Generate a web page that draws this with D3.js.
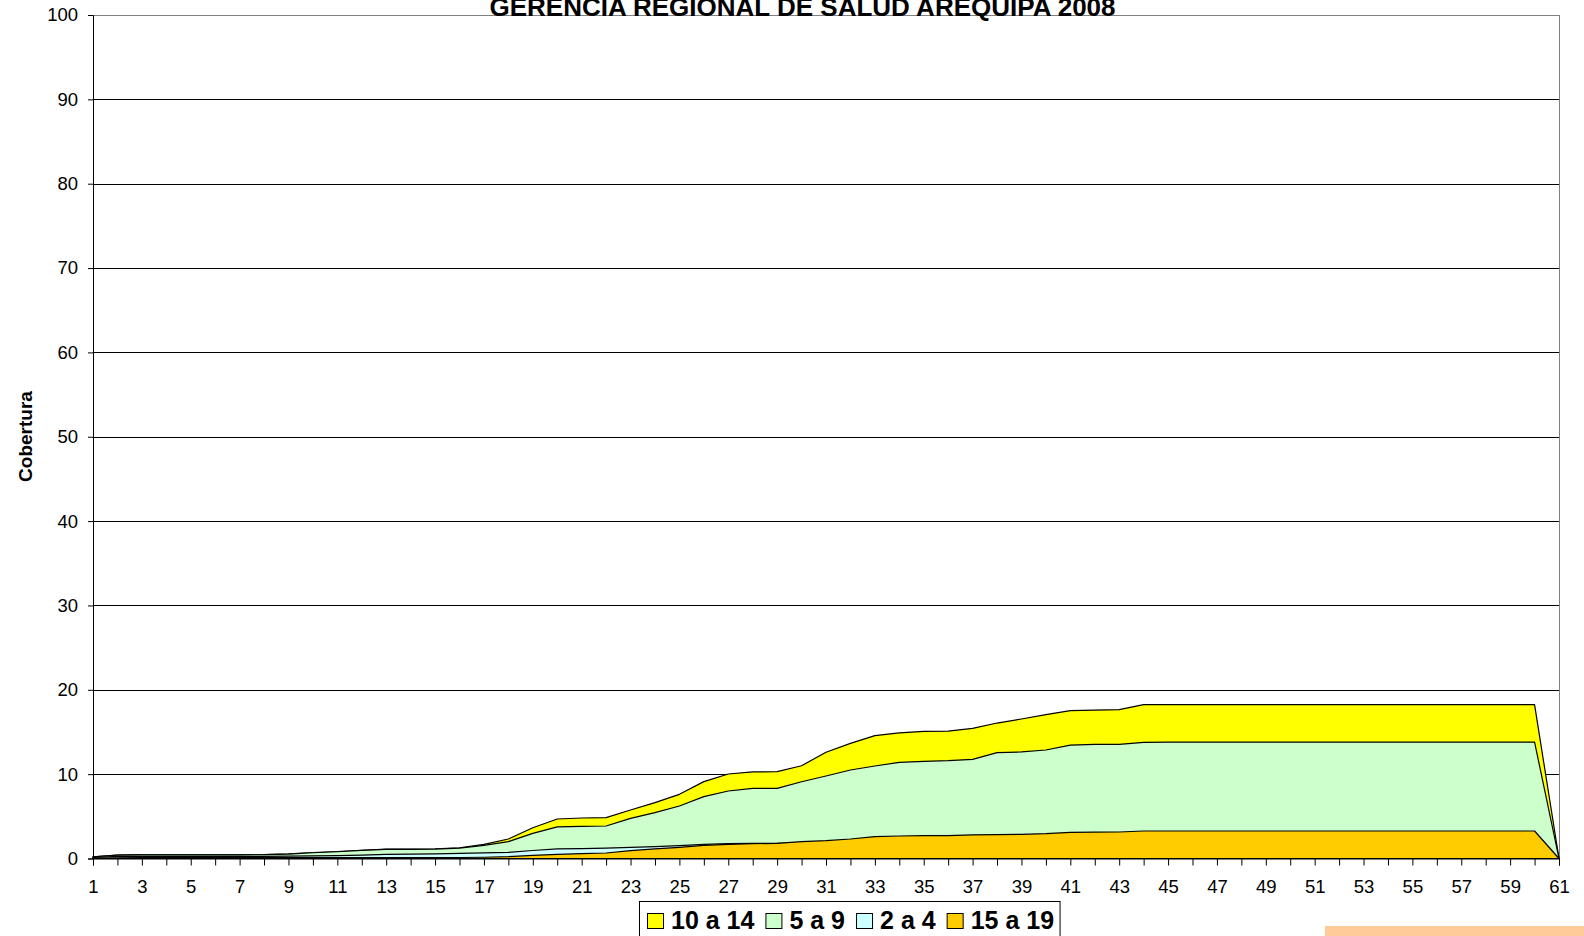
<!DOCTYPE html>
<html>
<head>
<meta charset="utf-8">
<script src="https://cdn.jsdelivr.net/npm/d3@7"></script>
<style>
  html, body { margin: 0; padding: 0; background: #fff; }
  svg { display: block; font-family: "Liberation Sans", Arial, sans-serif; }
</style>
</head>
<body>
<svg id="chart" width="1584" height="936"></svg>
<script>
const title = "GERENCIA REGIONAL DE SALUD AREQUIPA 2008";
const yTitle = "Cobertura";
const days = [1,2,3,4,5,6,7,8,9,10,11,12,13,14,15,16,17,18,19,20,21,22,23,24,25,26,27,28,29,30,
  31,32,33,34,35,36,37,38,39,40,41,42,43,44,45,46,47,48,49,50,51,52,53,54,55,56,57,58,59,60,61];
const yTicks = [0,10,20,30,40,50,60,70,80,90,100];
const seriesNames = ["10 a 14", "5 a 9", "2 a 4", "15 a 19"];
const seriesColors = ["#FFFF00", "#CCFFCC", "#CCFFFF", "#FFCC00"];

const s10a14 = [0.21,0.41,0.45,0.45,0.45,0.45,0.45,0.46,0.54,0.7,0.82,0.98,1.1,1.1,1.14,1.25,1.68,2.31,3.65,4.68,
  4.8,4.84,5.75,6.62,7.61,9.11,10.02,10.26,10.3,11.0,12.6,13.65,14.56,14.9,15.08,15.1,15.43,16.06,16.54,17.05,
  17.53,17.6,17.64,18.24,18.24,18.24,18.24,18.24,18.24,18.24,18.24,18.24,18.24,18.25,18.25,18.25,18.25,18.25,18.25,18.25,0];
const s5a9 = [0.2,0.4,0.44,0.44,0.44,0.44,0.44,0.45,0.53,0.68,0.8,0.96,1.08,1.08,1.12,1.23,1.56,2.0,2.98,3.75,
  3.81,3.85,4.76,5.43,6.22,7.33,8.0,8.32,8.32,9.1,9.78,10.49,10.97,11.4,11.52,11.6,11.76,12.55,12.63,12.86,
  13.45,13.53,13.53,13.77,13.8,13.8,13.8,13.8,13.8,13.8,13.8,13.8,13.8,13.8,13.8,13.8,13.8,13.8,13.8,13.8,0];
const s2a4 = [0.12,0.25,0.26,0.26,0.26,0.26,0.26,0.26,0.28,0.3,0.33,0.4,0.5,0.52,0.55,0.61,0.66,0.73,0.95,1.13,
  1.17,1.24,1.32,1.4,1.52,1.68,1.76,1.8,1.8,1.85,1.9,1.95,2.0,2.0,2.0,2.0,2.0,2.0,2.0,2.0,
  2.0,2.0,2.0,2.0,2.0,2.0,2.0,2.0,2.0,2.0,2.0,2.0,2.0,2.0,2.0,2.0,2.0,2.0,2.0,2.0,0];
const s15a19 = [0.05,0.08,0.1,0.1,0.1,0.1,0.1,0.1,0.1,0.1,0.1,0.1,0.12,0.12,0.12,0.12,0.15,0.22,0.38,0.5,
  0.57,0.65,0.93,1.13,1.32,1.56,1.68,1.76,1.8,2.0,2.11,2.31,2.59,2.67,2.71,2.71,2.79,2.83,2.87,2.94,
  3.1,3.12,3.14,3.26,3.26,3.26,3.26,3.26,3.26,3.26,3.26,3.26,3.26,3.26,3.26,3.26,3.26,3.26,3.26,3.26,0];
const seriesValues = [s10a14, s5a9, s2a4, s15a19];

const svg = d3.select("#chart");
const plotL = 93, plotR = 1559, plotT = 15, plotB = 858.5;

svg.append("rect").attr("width", 1584).attr("height", 936).attr("fill", "#fff");

const x = d3.scaleLinear().domain([1, 61]).range([plotL, plotR]);
const y = d3.scaleLinear().domain([0, 100]).range([plotB, plotT]);

// gridlines
svg.append("g").selectAll("line").data(yTicks.filter(t => t > 0)).join("line")
  .attr("x1", plotL).attr("x2", plotR)
  .attr("y1", d => Math.round(y(d)) + 0.5).attr("y2", d => Math.round(y(d)) + 0.5)
  .attr("stroke", d => d === 100 ? "#808080" : "#000").attr("stroke-width", 1);
// right border
svg.append("line").attr("x1", plotR + 0.5).attr("x2", plotR + 0.5).attr("y1", plotT).attr("y2", plotB)
  .attr("stroke", "#808080");

// areas (overlapping, drawn back to front)
const area = d3.area().x((d, i) => x(days[i])).y0(y(0)).y1(d => y(d));
seriesValues.forEach((vals, k) => {
  svg.append("path").datum(vals)
    .attr("d", area)
    .attr("fill", seriesColors[k])
    .attr("stroke", "#000")
    .attr("stroke-width", 1.2)
    .attr("stroke-linejoin", "round");
});

// axes
const yAxis = d3.axisLeft(y).tickValues(yTicks).tickSize(5).tickPadding(10);
const gy = svg.append("g").attr("transform", `translate(${plotL},0)`).call(yAxis);
gy.selectAll("text").attr("font-size", 18.5).attr("fill", "#000").attr("font-family", "Liberation Sans, Arial, sans-serif");
gy.select(".domain").attr("stroke", "#000");
gy.selectAll(".tick line").attr("stroke", "#000");

const xAxis = d3.axisBottom(x).tickValues(days).tickSize(7).tickPadding(14)
  .tickFormat(d => d % 2 === 1 ? d : "");
const gx = svg.append("g").attr("transform", `translate(0,${plotB})`).call(xAxis);
gx.selectAll("text").attr("font-size", 18.5).attr("fill", "#000").attr("font-family", "Liberation Sans, Arial, sans-serif");
gx.select(".domain").attr("stroke", "#000");
gx.selectAll(".tick line").attr("stroke", "#000");

// title (cut at the top edge, as in the original)
svg.append("text").attr("x", 802.5).attr("y", 16).attr("text-anchor", "middle")
  .attr("font-size", 26).attr("font-weight", "bold").text(title);

// y title
svg.append("text").attr("transform", "translate(32,436.5) rotate(-90)")
  .attr("text-anchor", "middle").attr("font-size", 19).attr("font-weight", "bold").text(yTitle);

// legend
const lg = svg.append("g");
const legBox = lg.append("rect").attr("x", 639.5).attr("y", 901.5).attr("height", 40)
  .attr("fill", "#fff").attr("stroke", "#000");
let cx = 647;
seriesNames.forEach((name, k) => {
  lg.append("rect").attr("x", cx + 0.5).attr("y", 913.5).attr("width", 16).attr("height", 15)
    .attr("fill", seriesColors[k]).attr("stroke", "#000");
  const t = lg.append("text").attr("x", cx + 24).attr("y", 929).attr("font-size", 25)
    .attr("font-weight", "bold").text(name);
  cx = cx + 24 + t.node().getComputedTextLength() + 11;
});
legBox.attr("width", cx - 11 + 6 - 639.5);

// decorative bar at bottom right
svg.append("rect").attr("x", 1325).attr("y", 926).attr("width", 259).attr("height", 10).attr("fill", "#FFCC99");
</script>
</body>
</html>
